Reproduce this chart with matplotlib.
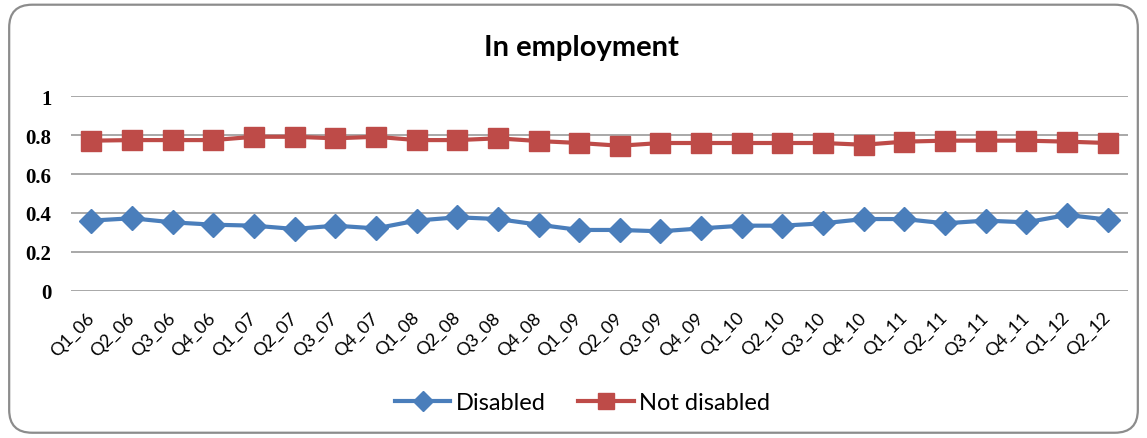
import numpy as np
import matplotlib
matplotlib.use("Agg")
import matplotlib.pyplot as plt
from matplotlib.patches import FancyBboxPatch

# quarterly employment rates, Q1 2006 - Q2 2012
quarters = ["Q1_06", "Q2_06", "Q3_06", "Q4_06",
            "Q1_07", "Q2_07", "Q3_07", "Q4_07",
            "Q1_08", "Q2_08", "Q3_08", "Q4_08",
            "Q1_09", "Q2_09", "Q3_09", "Q4_09",
            "Q1_10", "Q2_10", "Q3_10", "Q4_10",
            "Q1_11", "Q2_11", "Q3_11", "Q4_11",
            "Q1_12", "Q2_12"]
disabled = [0.361, 0.373, 0.352, 0.340, 0.335, 0.318, 0.335, 0.321,
            0.361, 0.378, 0.369, 0.340, 0.313, 0.313, 0.306, 0.321,
            0.335, 0.335, 0.347, 0.369, 0.369, 0.347, 0.361, 0.352,
            0.390, 0.366]
not_disabled = [0.771, 0.774, 0.774, 0.774, 0.791, 0.791, 0.783, 0.791,
                0.774, 0.774, 0.783, 0.769, 0.759, 0.745, 0.759, 0.759,
                0.759, 0.759, 0.759, 0.750, 0.766, 0.771, 0.771, 0.771,
                0.766, 0.759]

font = "Lato"

fig = plt.figure(figsize=(11.47, 4.39), dpi=100)

# rounded chart frame
frame = FancyBboxPatch((0.008, 0.012), 0.984, 0.975,
                       boxstyle="round,pad=0,rounding_size=0.02",
                       transform=fig.transFigure, fc="white", ec="#8c8c8c",
                       lw=1.6, mutation_aspect=2.6, zorder=-5)
fig.patches.append(frame)

ax = fig.add_axes([0.0619, 0.3349, 0.9215, 0.4441])
ax.set_facecolor("none")
ax.set_zorder(2)

x = np.arange(len(quarters))
ax.plot(x, disabled, color="#4A7EBB", lw=3, marker="D", ms=12,
        label="Disabled", zorder=3)
ax.plot(x, not_disabled, color="#BE4B48", lw=3, marker="s", ms=14,
        label="Not disabled", zorder=3)

ax.set_xlim(-0.5, len(quarters) - 0.5)
ax.set_ylim(0, 1)
ax.set_yticks(np.arange(0, 1.01, 0.2))
ax.set_yticklabels(["0", "0.2", "0.4", "0.6", "0.8", "1"],
                   family="Liberation Serif", fontweight="bold", fontsize=15)
ax.yaxis.grid(True, color="#9a9a9a", lw=1.2)
ax.set_axisbelow(True)
for s in ax.spines.values():
    s.set_visible(False)
ax.tick_params(axis="y", length=0, pad=14)
ax.tick_params(axis="x", length=0, pad=17)

ax.set_xticks(x)
ax.set_xticklabels(quarters, rotation=45, ha="right", va="center",
                   rotation_mode="anchor", family=font, fontsize=13)

fig.text(0.5065, 0.891, "In employment", ha="center", va="center",
         family=font, fontweight="bold", fontsize=21)

fig.legend(loc="center", bbox_to_anchor=(0.508, 0.08), ncol=2, frameon=False,
           prop={"family": font, "size": 17}, handlelength=2.35,
           markerscale=0.85, columnspacing=1.35, handletextpad=0.25)

fig.savefig("out.png", dpi=100)
